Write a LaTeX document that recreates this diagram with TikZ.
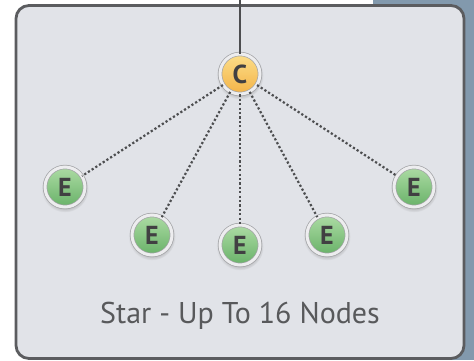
\documentclass[tikz,border=0pt]{standalone}
\usepackage{fontspec}
\setmainfont{PT Sans}
\usetikzlibrary{shadows}
\definecolor{panelfill}{HTML}{E1E3E8}
\definecolor{paneledge}{HTML}{5B5C5F}
\definecolor{sidebar}{HTML}{8299AD}
\definecolor{linkgray}{HTML}{4D4E50}
\definecolor{labelgray}{HTML}{58595B}
\definecolor{orbtext}{HTML}{414042}
\definecolor{ringgray}{HTML}{A2A3A6}
\definecolor{ringlight}{HTML}{EDEDEF}
\definecolor{hubtop}{HTML}{FCDE8A}
\definecolor{hubbottom}{HTML}{F3B347}
\definecolor{endtop}{HTML}{ADDBA4}
\definecolor{endbottom}{HTML}{68B268}
\tikzset{
  panel/.style={draw=paneledge,line width=2.8pt,fill=panelfill,rounded corners=13pt,
    minimum width=448pt,minimum height=353pt,inner sep=0pt},
  orb/.style={circle,inner sep=0pt,minimum size=40pt,draw=ringgray,line width=0.7pt,
    double=ringlight,double distance=3pt,text=orbtext,
    font=\bfseries\fontsize{26}{26}\selectfont,
    circular drop shadow={shadow xshift=0pt,shadow yshift=-1.5pt,shadow scale=1.18,opacity=0.3}},
  hub/.style={orb,top color=hubtop,bottom color=hubbottom},
  station/.style={orb,top color=endtop,bottom color=endbottom},
  link/.style={linkgray,line width=2.2pt,dash pattern=on 2.2pt off 2.2pt},
  uplink/.style={linkgray,line width=2.4pt},
  caption/.style={text=labelgray,font=\fontsize{30}{30}\selectfont,anchor=base}
}
\begin{document}
\begin{tikzpicture}[x=1pt,y=-1pt]
  \useasboundingbox (0,0) rectangle (474,360);
  \fill[sidebar] (373,0) rectangle (474,360);
  \node[panel] (panel) at (240,182) {};

  % hub and end stations
  \node[hub] (hub) at (240,74) {C};
  \node[station] (e1) at (65,187) {E};
  \node[station] (e2) at (152,235) {E};
  \node[station] (e3) at (240,245) {E};
  \node[station] (e4) at (327,235) {E};
  \node[station] (e5) at (414,187) {E};

  \coordinate (feed) at (240,0);
  \draw[uplink] (feed) -- (hub);
  \foreach \e in {e1,e2,e3,e4,e5}
    \draw[link] (hub) -- (\e);

  \node[caption] (title) at (240,323) {Star - Up To 16 Nodes};
\end{tikzpicture}
\end{document}
